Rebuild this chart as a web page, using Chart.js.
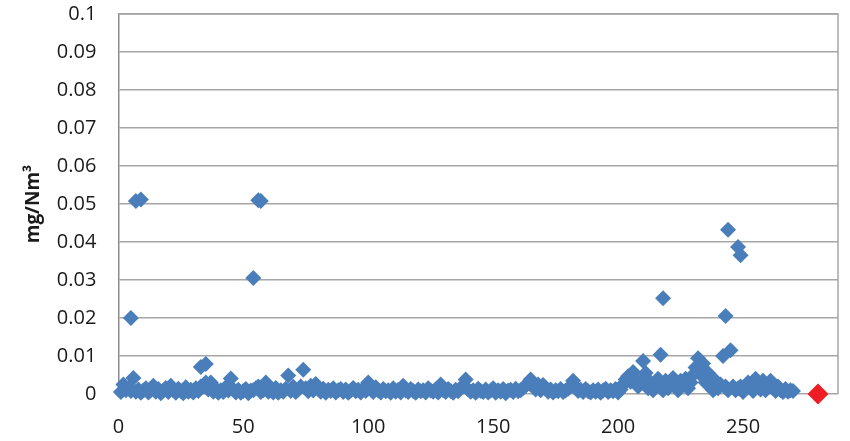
<!DOCTYPE html>
<html>
<head>
<meta charset="utf-8">
<script src="https://cdn.jsdelivr.net/npm/chart.js@4/dist/chart.umd.min.js"></script>
<style>
  html, body { margin: 0; padding: 0; background: #fff; }
  #wrap { width: 850px; height: 441px; }
</style>
</head>
<body>
<div id="wrap"><canvas id="dustChart" width="850" height="441"></canvas></div>
<script>
// measured concentration per sample number (1..270), mg/Nm3
const levels = [
  0.0005, 0.0025, 0.0010, 0.0015, 0.0008, 0.0042, 0.0006, 0.0012, 0.0003, 0.0009,
  0.0015, 0.0004, 0.0010, 0.0022, 0.0006, 0.0013, 0.0002, 0.0009, 0.0016, 0.0005,
  0.0022, 0.0010, 0.0003, 0.0014, 0.0008, 0.0002, 0.0018, 0.0006, 0.0011, 0.0004,
  0.0015, 0.0008, 0.0071, 0.0020, 0.0079, 0.0012, 0.0030, 0.0006, 0.0014, 0.0003,
  0.0010, 0.0005, 0.0018, 0.0009, 0.0041, 0.0012, 0.0004, 0.0011, 0.0003, 0.0008,
  0.0013, 0.0002, 0.0009, 0.0305, 0.0015, 0.0510, 0.0005, 0.0010, 0.0030, 0.0006,
  0.0012, 0.0004, 0.0016, 0.0003, 0.0010, 0.0006, 0.0014, 0.0049, 0.0008, 0.0019,
  0.0005, 0.0012, 0.0020, 0.0064, 0.0015, 0.0007, 0.0022, 0.0009, 0.0026, 0.0013,
  0.0006, 0.0014, 0.0003, 0.0011, 0.0008, 0.0015, 0.0004, 0.0010, 0.0013, 0.0005,
  0.0012, 0.0003, 0.0009, 0.0016, 0.0007, 0.0011, 0.0004, 0.0014, 0.0008, 0.0030,
  0.0012, 0.0005, 0.0018, 0.0009, 0.0004, 0.0013, 0.0007, 0.0010, 0.0003, 0.0015,
  0.0006, 0.0011, 0.0004, 0.0022, 0.0009, 0.0005, 0.0013, 0.0008, 0.0003, 0.0012,
  0.0007, 0.0010, 0.0004, 0.0015, 0.0009, 0.0006, 0.0012, 0.0004, 0.0025, 0.0010,
  0.0005, 0.0013, 0.0008, 0.0003, 0.0011, 0.0007, 0.0016, 0.0020, 0.0038, 0.0012,
  0.0006, 0.0010, 0.0003, 0.0014, 0.0008, 0.0005, 0.0012, 0.0004, 0.0009, 0.0015,
  0.0003, 0.0010, 0.0006, 0.0013, 0.0002, 0.0009, 0.0011, 0.0005, 0.0014, 0.0007,
  0.0010, 0.0016, 0.0022, 0.0028, 0.0038, 0.0020, 0.0012, 0.0025, 0.0010, 0.0024,
  0.0015, 0.0006, 0.0012, 0.0004, 0.0010, 0.0007, 0.0013, 0.0005, 0.0009, 0.0014,
  0.0020, 0.0035, 0.0018, 0.0008, 0.0011, 0.0005, 0.0013, 0.0007, 0.0004, 0.0010,
  0.0006, 0.0012, 0.0003, 0.0009, 0.0014, 0.0005, 0.0010, 0.0007, 0.0013, 0.0004,
  0.0012, 0.0025, 0.0038, 0.0047, 0.0032, 0.0058, 0.0040, 0.0020, 0.0030, 0.0087,
  0.0055, 0.0015, 0.0030, 0.0010, 0.0025, 0.0040, 0.0103, 0.0252, 0.0035, 0.0015,
  0.0030, 0.0042, 0.0020, 0.0010, 0.0035, 0.0025, 0.0040, 0.0015, 0.0030, 0.0050,
  0.0070, 0.0094, 0.0060, 0.0045, 0.0030, 0.0055, 0.0020, 0.0010, 0.0035, 0.0015,
  0.0025, 0.0100, 0.0205, 0.0432, 0.0115, 0.0020, 0.0010, 0.0387, 0.0365, 0.0005,
  0.0015, 0.0030, 0.0020, 0.0008, 0.0040, 0.0025, 0.0012, 0.0035, 0.0010, 0.0022,
  0.0035, 0.0015, 0.0008, 0.0020, 0.0010, 0.0005, 0.0013, 0.0006, 0.0010, 0.0008
];

// repeated measurements on the same sample number
const extraX = [5, 7, 9, 33, 35, 54, 56, 57, 218, 234, 243, 244, 248, 249];
const extraY = [0.0200, 0.0508, 0.0512, 0.0020, 0.0030, 0.0010, 0.0020, 0.0508,
                0.0010, 0.0080, 0.0020, 0.0010, 0.0015, 0.0020];

// highlighted (red) result
const markX = [280];
const markY = [0];

const yTicks = [0, 0.01, 0.02, 0.03, 0.04, 0.05, 0.06, 0.07, 0.08, 0.09, 0.1];
const xTicks = [0, 50, 100, 150, 200, 250];

const samples = levels.map((v, i) => ({ x: i + 1, y: v }))
  .concat(extraX.map((x, i) => ({ x: x, y: extraY[i] })));

// frame around the plot area
const plotFrame = {
  id: "plotFrame",
  afterDraw(chart) {
    const a = chart.chartArea, c = chart.ctx;
    c.save();
    c.strokeStyle = "#a6a6a6";
    c.lineWidth = 1.5;
    c.beginPath();
    c.moveTo(a.left, a.top);
    c.lineTo(a.right, a.top);
    c.lineTo(a.right, a.bottom);
    c.stroke();
    c.restore();
  }
};

const ctx = document.getElementById("dustChart");

new Chart(ctx, {
  type: "scatter",
  data: {
    datasets: [
      {
        data: markX.map((x, i) => ({ x: x, y: markY[i] })),
        pointStyle: "rectRot",
        pointRadius: 10.5,
        backgroundColor: "#ee1c24",
        borderWidth: 0,
        clip: false,
        order: 0
      },
      {
        data: samples,
        pointStyle: "rectRot",
        pointRadius: 8,
        backgroundColor: "#4a7ebb",
        borderWidth: 0,
        clip: false,
        order: 1
      }
    ]
  },
  options: {
    responsive: false,
    animation: false,
    layout: { autoPadding: false, padding: { top: 4, right: 12, left: 22, bottom: 0 } },
    plugins: {
      legend: { display: false },
      tooltip: { enabled: false }
    },
    scales: {
      x: {
        type: "linear",
        min: 0,
        max: 288,
        afterBuildTicks: (axis) => { axis.ticks = xTicks.map(v => ({ value: v })); },
        grid: { drawOnChartArea: false, drawTicks: true, tickLength: 19, tickColor: "rgba(0,0,0,0)" },
        border: { display: false },
        ticks: {
          padding: 2,
          color: "#1a1a1a",
          font: { family: "Open Sans", size: 20 }
        }
      },
      y: {
        min: 0,
        max: 0.1,
        afterBuildTicks: (axis) => { axis.ticks = yTicks.map(v => ({ value: v })); },
        grid: { color: "#a6a6a6", lineWidth: 1.5, drawTicks: true, tickLength: 20, tickColor: "rgba(0,0,0,0)" },
        border: { color: "#8c8c8c", width: 1.5 },
        ticks: {
          padding: 2,
          color: "#1a1a1a",
          font: { family: "Open Sans", size: 20 },
          callback: (v) => String(+v.toFixed(2))
        },
        title: {
          display: true,
          text: "mg/Nm³",
          color: "#1a1a1a",
          font: { family: "Open Sans", size: 19, weight: "bold" },
          padding: { top: 0, bottom: 10 }
        }
      }
    }
  },
  plugins: [plotFrame]
});
</script>
</body>
</html>
